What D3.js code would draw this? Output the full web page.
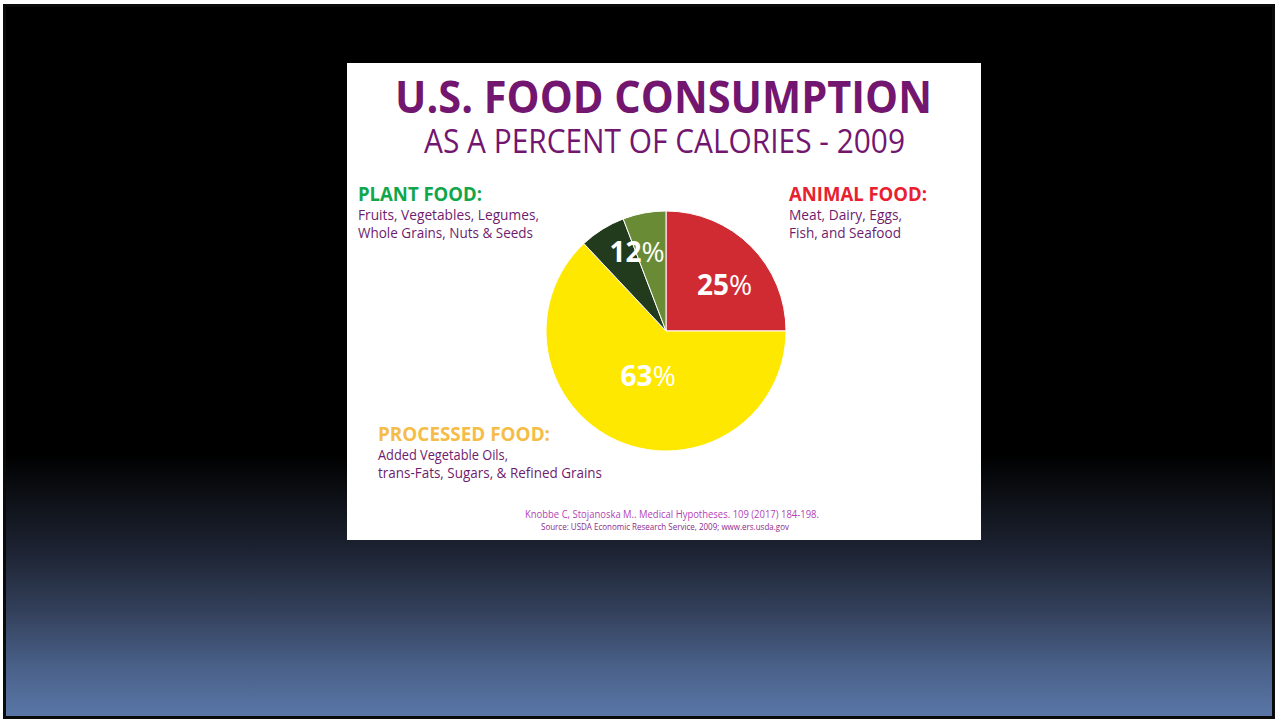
<!DOCTYPE html>
<html>
<head>
<meta charset="utf-8">
<script src="https://cdn.jsdelivr.net/npm/d3@7"></script>
<style>
  html, body { margin: 0; padding: 0; background: #ffffff; overflow: hidden; }
  svg { display: block; }
</style>
</head>
<body>
<svg id="chart" width="1276" height="719"></svg>
<script>
// Share of calories by food group, U.S. 2009
const categories = ["Animal food", "Processed food", "Plant food (a)", "Plant food (b)"];
const values = [25, 63, 6.2, 5.8];
const sliceColors = ["#d02a33", "#ffe800", "#223b1d", "#6a8b36"];

// Percent labels shown on the pie (plant food shares one label)
const pctLabels = [
  { text: "25", value: 25, angle: 0.289 * Math.PI, r: 0.62 },
  { text: "63", value: 63, angle: 1.121 * Math.PI, r: 0.40 },
  { text: "12", value: 12, angle: 1.888 * Math.PI, r: 0.70 }
];

const groupTitles = ["PLANT FOOD:", "ANIMAL FOOD:", "PROCESSED FOOD:"];
const groupLines = [
  ["Fruits, Vegetables, Legumes,", "Whole Grains, Nuts & Seeds"],
  ["Meat, Dairy, Eggs,", "Fish, and Seafood"],
  ["Added Vegetable Oils,", "trans-Fats, Sugars, & Refined Grains"]
];
const groupColors = ["#12a64b", "#e8202f", "#f5bd47"];

const titleText = "U.S. FOOD CONSUMPTION";
const subtitleText = "AS A PERCENT OF CALORIES - 2009";
const citeText = "Knobbe C,  Stojanoska M.. Medical Hypotheses. 109 (2017) 184-198.";
const sourceText = "Source: USDA Economic Research Service, 2009; www.ers.usda.gov";

const svg = d3.select("#chart");
const font = "'Open Sans', 'Noto Sans', sans-serif";

// Slide background
const defs = svg.append("defs");
const grad = defs.append("linearGradient")
  .attr("id", "slideBg").attr("x1", 0).attr("y1", 0).attr("x2", 0).attr("y2", 1);
[
  [0, "#000000"], [0.63, "#000000"], [0.69, "#0d1016"], [0.77, "#1e2434"],
  [0.85, "#33405b"], [0.93, "#4a6189"], [1, "#5a77a8"]
].forEach(([o, c]) => grad.append("stop").attr("offset", o).attr("stop-color", c));

svg.append("rect")
  .attr("x", 4.5).attr("y", 5.5).attr("width", 1269).attr("height", 712)
  .attr("fill", "url(#slideBg)")
  .attr("stroke", "#0a0a0a").attr("stroke-width", 3);

// White chart panel
svg.append("rect")
  .attr("x", 347).attr("y", 63).attr("width", 634).attr("height", 477)
  .attr("fill", "#ffffff");

// Titles
svg.append("text")
  .attr("x", 663.5).attr("y", 113).attr("text-anchor", "middle")
  .attr("font-family", font).attr("font-weight", 700).attr("font-size", 44)
  .attr("fill", "#73166f")
  .attr("textLength", 537).attr("lengthAdjust", "spacingAndGlyphs")
  .text(titleText);

svg.append("text")
  .attr("x", 664.5).attr("y", 153).attr("text-anchor", "middle")
  .attr("font-family", font).attr("font-weight", 400).attr("font-size", 33)
  .attr("fill", "#73166f")
  .attr("textLength", 481).attr("lengthAdjust", "spacingAndGlyphs")
  .text(subtitleText);

// Pie
const cx = 666, cy = 331, radius = 120;
const pie = d3.pie().sort(null).value(d => d);
const arc = d3.arc().innerRadius(0).outerRadius(radius);
const g = svg.append("g").attr("transform", `translate(${cx},${cy})`);

g.selectAll("path.slice")
  .data(pie(values))
  .join("path")
  .attr("class", "slice")
  .attr("d", arc)
  .attr("fill", (d, i) => sliceColors[i])
  .attr("stroke", "#ffffff")
  .attr("stroke-width", 1)
  .attr("stroke-linejoin", "round");

// Percent labels
const lbl = g.selectAll("text.pct")
  .data(pctLabels)
  .join("text")
  .attr("class", "pct")
  .attr("x", d => Math.sin(d.angle) * radius * d.r)
  .attr("y", d => -Math.cos(d.angle) * radius * d.r + 10)
  .attr("text-anchor", "middle")
  .attr("font-family", font)
  .attr("font-size", 28)
  .attr("fill", "#ffffff");
lbl.append("tspan").attr("font-weight", 700).text(d => d.text);
lbl.append("tspan").attr("font-weight", 400).text("%");

// Group legends
const legendPos = [
  { x: 358, y: 201, tw: 124, lw: [181, 175] },
  { x: 789, y: 201, tw: 138, lw: [113, 112] },
  { x: 378, y: 441, tw: 172, lw: [130, 224] }
];
legendPos.forEach((p, i) => {
  svg.append("text")
    .attr("x", p.x).attr("y", p.y)
    .attr("font-family", font).attr("font-weight", 700).attr("font-size", 19)
    .attr("fill", groupColors[i])
    .attr("textLength", p.tw).attr("lengthAdjust", "spacingAndGlyphs")
    .text(groupTitles[i]);
  groupLines[i].forEach((line, j) => {
    svg.append("text")
      .attr("x", p.x).attr("y", p.y + 19 + j * 18)
      .attr("font-family", font).attr("font-weight", 400).attr("font-size", 14.5)
      .attr("fill", "#6e1c6e")
      .attr("textLength", p.lw[j]).attr("lengthAdjust", "spacingAndGlyphs")
      .text(line);
  });
});

// Citation and source
svg.append("text")
  .attr("x", 672).attr("y", 518).attr("text-anchor", "middle")
  .attr("font-family", font).attr("font-size", 10)
  .attr("fill", "#b23fb6")
  .attr("textLength", 294).attr("lengthAdjust", "spacingAndGlyphs")
  .text(citeText);

svg.append("text")
  .attr("x", 665).attr("y", 530).attr("text-anchor", "middle")
  .attr("font-family", font).attr("font-size", 8.5)
  .attr("fill", "#8c2a8c")
  .attr("textLength", 248).attr("lengthAdjust", "spacingAndGlyphs")
  .text(sourceText);
</script>
</body>
</html>
